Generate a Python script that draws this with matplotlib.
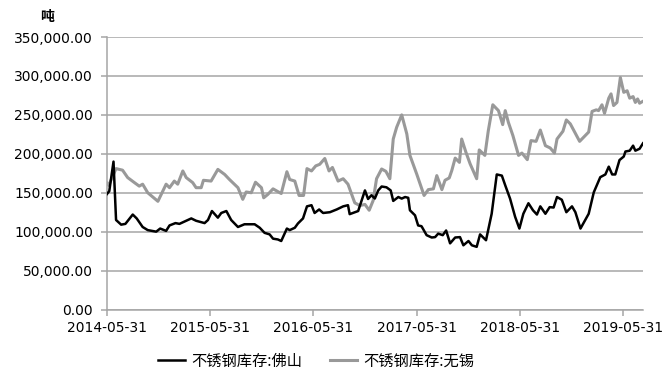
import numpy as np
import pandas as pd
import matplotlib
matplotlib.use("Agg")
import matplotlib.pyplot as plt
import matplotlib.ticker as mticker

plt.rcParams['font.family'] = ['Noto Sans CJK SC', 'DejaVu Sans']

# 不锈钢库存:佛山 (吨)
foshan_dates = [
    "2014-05-31", "2014-06-09", "2014-06-24", "2014-07-03", "2014-07-21", "2014-08-05",
    "2014-08-31", "2014-09-14", "2014-10-05", "2014-10-23", "2014-11-22", "2014-12-06",
    "2014-12-27", "2015-01-08", "2015-01-29", "2015-02-12", "2015-03-08", "2015-03-26",
    "2015-04-12", "2015-05-12", "2015-05-24", "2015-06-07", "2015-06-28", "2015-07-10",
    "2015-07-28", "2015-08-14", "2015-09-07", "2015-09-30", "2015-11-05", "2015-11-23",
    "2015-12-10", "2015-12-28", "2016-01-09", "2016-01-26", "2016-02-07", "2016-02-27",
    "2016-03-08", "2016-03-26", "2016-04-06", "2016-04-24", "2016-05-08", "2016-05-24",
    "2016-06-04", "2016-06-20", "2016-07-04", "2016-07-28", "2016-08-21", "2016-09-13",
    "2016-09-30", "2016-10-06", "2016-11-05", "2016-11-29", "2016-12-10", "2016-12-22",
    "2017-01-03", "2017-01-15", "2017-01-27", "2017-02-13", "2017-02-28", "2017-03-09",
    "2017-03-27", "2017-04-08", "2017-04-20", "2017-05-01", "2017-05-07", "2017-05-25",
    "2017-06-05", "2017-06-17", "2017-07-05", "2017-07-23", "2017-08-04", "2017-08-15",
    "2017-08-31", "2017-09-12", "2017-09-26", "2017-10-14", "2017-10-31", "2017-11-12",
    "2017-11-30", "2017-12-12", "2017-12-29", "2018-01-10", "2018-01-31", "2018-02-20",
    "2018-03-10", "2018-03-28", "2018-04-09", "2018-04-26", "2018-05-14", "2018-05-29",
    "2018-06-12", "2018-06-30", "2018-07-16", "2018-07-30", "2018-08-11", "2018-08-29",
    "2018-09-13", "2018-09-27", "2018-10-09", "2018-10-26", "2018-11-11", "2018-12-01",
    "2018-12-13", "2018-12-31", "2019-01-29", "2019-02-16", "2019-03-11", "2019-03-29",
    "2019-04-10", "2019-04-22", "2019-05-03", "2019-05-18", "2019-06-02", "2019-06-08",
    "2019-06-23", "2019-07-05", "2019-07-13", "2019-07-28", "2019-08-09",
]
foshan = [
    148000, 152000, 190000, 115000, 109000, 110000,
    122000, 117000, 106000, 102000, 100000, 104000,
    101000, 108000, 111000, 110000, 114000, 117000,
    114000, 111000, 115000, 126500, 118000, 124000,
    126500, 115000, 106000, 109500, 109500, 105000,
    98500, 96500, 91000, 90000, 88000, 104000,
    102000, 105000, 110500, 117000, 132500, 134000,
    124000, 128500, 124000, 125000, 128500, 132500,
    134000, 122500, 126500, 153000, 142000, 146800,
    142600, 153000, 158000, 157000, 153000, 139500,
    144500, 142500, 144500, 143500, 127500, 121000,
    108000, 107000, 95500, 92500, 93000, 97500,
    95500, 101500, 85000, 92500, 93000, 82500,
    88000, 82500, 80500, 96500, 89000, 123000,
    173500, 172000, 159500, 142500, 119000, 104000,
    123000, 136500, 127500, 122000, 132500, 123000,
    131500, 131000, 144500, 141000, 125000, 132500,
    125000, 104000, 123000, 150500, 170000, 173500,
    183500, 173500, 173500, 192000, 196500, 203000,
    204000, 210500, 204000, 206500, 213500,
]

# 不锈钢库存:无锡 (吨)
wuxi_dates = [
    "2014-05-31", "2014-06-07", "2014-07-03", "2014-07-26", "2014-08-13", "2014-09-06",
    "2014-09-23", "2014-10-05", "2014-10-23", "2014-11-28", "2014-12-27", "2015-01-08",
    "2015-01-25", "2015-02-06", "2015-02-24", "2015-03-08", "2015-03-31", "2015-04-12",
    "2015-04-30", "2015-05-08", "2015-06-04", "2015-06-28", "2015-07-22", "2015-08-08",
    "2015-09-07", "2015-09-24", "2015-10-06", "2015-10-24", "2015-11-08", "2015-11-29",
    "2015-12-07", "2015-12-22", "2016-01-09", "2016-02-07", "2016-02-27", "2016-03-08",
    "2016-03-26", "2016-04-10", "2016-04-26", "2016-05-08", "2016-05-24", "2016-06-08",
    "2016-06-22", "2016-07-10", "2016-07-25", "2016-08-06", "2016-08-26", "2016-09-13",
    "2016-09-30", "2016-10-24", "2016-11-11", "2016-11-29", "2016-12-14", "2016-12-28",
    "2017-01-09", "2017-01-27", "2017-02-11", "2017-02-25", "2017-03-09", "2017-03-21",
    "2017-04-08", "2017-04-26", "2017-05-07", "2017-05-31", "2017-06-26", "2017-07-11",
    "2017-07-29", "2017-08-10", "2017-08-28", "2017-09-08", "2017-09-23", "2017-10-02",
    "2017-10-14", "2017-10-29", "2017-11-06", "2017-11-21", "2017-12-06", "2017-12-29",
    "2018-01-07", "2018-01-27", "2018-02-08", "2018-02-24", "2018-03-16", "2018-03-31",
    "2018-04-09", "2018-04-20", "2018-05-06", "2018-05-26", "2018-06-07", "2018-06-26",
    "2018-07-09", "2018-07-27", "2018-08-11", "2018-08-29", "2018-09-15", "2018-09-30",
    "2018-10-09", "2018-10-30", "2018-11-11", "2018-11-25", "2018-12-28", "2019-01-29",
    "2019-02-10", "2019-02-25", "2019-03-05", "2019-03-17", "2019-03-26", "2019-04-10",
    "2019-04-18", "2019-04-27", "2019-05-09", "2019-05-21", "2019-06-02", "2019-06-14",
    "2019-06-23", "2019-07-05", "2019-07-13", "2019-07-21", "2019-07-28", "2019-08-09",
]
wuxi = [
    163000, 159500, 181000, 179000, 169500, 163000,
    158500, 161000, 150000, 139000, 161000, 156500,
    165000, 161000, 178000, 169500, 163000, 156500,
    156500, 166000, 165000, 180000, 173500, 167000,
    156500, 141500, 151000, 150000, 163500, 156500,
    143500, 148000, 155000, 149000, 177000, 167000,
    165000, 146500, 146500, 181000, 178000, 184500,
    186500, 194000, 178000, 182500, 165000, 168000,
    161000, 137000, 133500, 135000, 127500, 140000,
    168000, 180500, 177500, 168000, 219000, 234000,
    250000, 225500, 198000, 174000, 146500, 154000,
    155000, 172000, 154000, 166000, 169000, 178500,
    194500, 189000, 219000, 202000, 187000, 168000,
    205000, 198000, 229500, 263000, 255500, 237500,
    255500, 240500, 223500, 198000, 201000, 192500,
    217000, 216000, 230500, 210500, 207500, 201000,
    219000, 229000, 243500, 238500, 216000, 228000,
    254500, 256500, 255500, 263000, 252000, 271500,
    277000, 262000, 266000, 298000, 279000, 281000,
    271500, 273500, 266000, 270500, 265000, 267500,
]

tick_dates = ["2014-05-31", "2015-05-31", "2016-05-31", "2017-05-31", "2018-05-31", "2019-05-31"]

fs_x = pd.to_datetime(foshan_dates)
wx_x = pd.to_datetime(wuxi_dates)
ticks = pd.to_datetime(tick_dates)

fig = plt.figure(figsize=(6.67, 3.8), dpi=100)
ax = fig.add_axes([0.160, 0.1855, 0.804, 0.717])

grid_c = '#a6a6a6'
ax.plot(fs_x, foshan, color='black', lw=1.8, label='不锈钢库存:佛山', zorder=3)
ax.plot(wx_x, wuxi, color='#999999', lw=2.2, label='不锈钢库存:无锡', zorder=2)

ax.set_ylim(0, 350000)
ax.set_xlim(fs_x[0], fs_x[-1])
ax.yaxis.set_major_locator(mticker.MultipleLocator(50000))
ax.yaxis.set_major_formatter(mticker.FuncFormatter(lambda v, p: f"{v:,.2f}"))
ax.set_xticks(ticks)
ax.set_xticklabels([t.strftime('%Y-%m-%d') for t in ticks])

ax.grid(axis='y', color=grid_c, lw=1.1)
ax.set_axisbelow(True)
for s in ['top', 'right']:
    ax.spines[s].set_visible(False)
for s in ['left', 'bottom']:
    ax.spines[s].set_color(grid_c)
    ax.spines[s].set_linewidth(1.1)
ax.tick_params(axis='both', colors=grid_c, length=4, width=1.1, labelsize=10, labelcolor='black')
ax.tick_params(axis='y', pad=6)
ax.tick_params(axis='x', pad=4)
for lab in ax.get_xticklabels() + ax.get_yticklabels():
    lab.set_family(['DejaVu Sans'])

fig.text(0.07, 0.955, '吨', fontsize=10, fontweight='bold', ha='center', va='center')

fig.legend(loc='center', bbox_to_anchor=(0.474, 0.05), ncol=2, frameon=False,
           fontsize=11, handlelength=1.8, columnspacing=1.8, handletextpad=0.4)

fig.savefig('out.png', dpi=100)
